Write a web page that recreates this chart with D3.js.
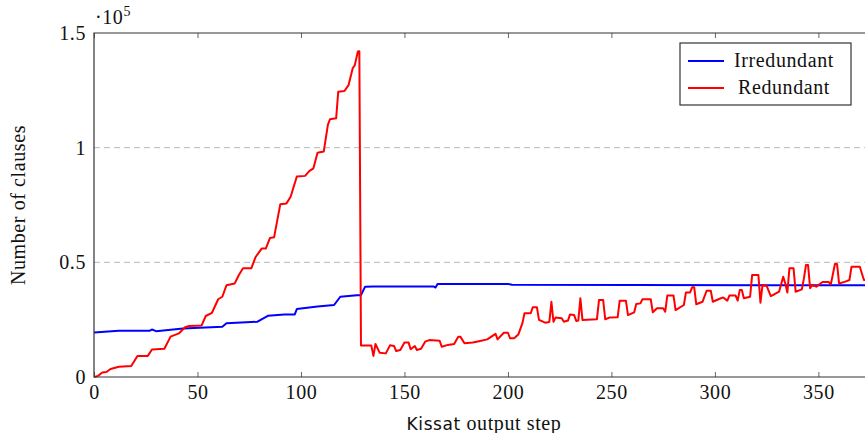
<!DOCTYPE html>
<html lang="en">
<head>
<meta charset="utf-8">
<title>Clauses per Kissat output step</title>
<script src="https://d3js.org/d3.v7.min.js"></script>
<style>
  html, body { margin: 0; padding: 0; background: #fff; }
  svg { font-family: "Liberation Serif", "DejaVu Serif", serif; }
  svg text { letter-spacing: 0.6px; }
  .grid line { stroke: #b8b8b8; stroke-dasharray: 6 4; stroke-width: 1; }
  .frame { fill: none; stroke: #333; stroke-width: 1.2; }
  .series { fill: none; stroke-width: 2; stroke-linejoin: round; }
</style>
</head>
<body>
<div id="chart"></div>
<script>
// Data (x = Kissat output step, y = number of clauses)
var blueSteps = [0, 12, 27, 28, 30, 43, 62, 64, 79, 84, 92, 97, 98, 108, 116, 119, 127, 129, 131, 135, 164, 165, 166, 200, 202, 260, 373];
var blueValues = [19400, 20200, 20200, 20700, 20000, 21200, 21900, 23400, 24100, 26700, 27300, 27300, 29600, 30700, 31400, 35000, 35600, 35700, 39400, 39500, 39500, 39000, 40600, 40600, 40200, 40100, 40000];

var redSteps = [0, 2, 4, 6, 8, 12, 18, 21, 26, 28, 34, 37, 41, 44, 46, 52, 54, 57, 60, 62, 64, 68, 70, 72, 76, 78, 81, 83, 85, 87, 90, 93, 95, 98, 102, 104, 106, 108, 111, 113, 114, 117, 118, 121, 123, 125, 126, 127.5, 128.2,
  129, 134, 135, 136, 138, 141, 143, 145, 146, 148, 150, 152, 153, 155, 156, 158, 160, 162, 167, 168, 171, 174, 176, 177, 179, 183, 186, 190, 192, 194, 195, 198, 200, 201, 203, 205, 207, 208, 211, 212, 214, 215, 218, 220,
  221, 222, 223, 226, 227, 229, 230, 232, 233, 234, 235, 236, 243, 244, 246, 247, 249, 253, 254, 257, 258, 261, 262, 264, 265, 269, 270, 272, 275, 276, 277, 280, 281, 285, 286, 288, 289, 290, 291, 294, 296, 298, 299,
  302, 304, 306, 307, 310, 311, 312, 313, 314, 317, 318, 321, 322, 323, 325, 327, 329, 331, 333, 334, 335, 336, 338, 339, 342, 343, 344, 345, 346, 347, 349, 352, 355, 356, 358, 359, 360, 363, 365, 366, 370, 372, 373];
var redValues = [0, 500, 2000, 2200, 3500, 4500, 4800, 9200, 9200, 12000, 12300, 17600, 19000, 21700, 22200, 22500, 26600, 28000, 33900, 35000, 40000, 40800, 44500, 47400, 47400, 52200, 56000, 56000, 60600, 60900, 75300, 75700, 78600, 87400, 87700, 89800, 91000, 97800, 98300, 109900, 112400, 112800, 124400, 124700, 127300, 134600, 136000, 141900, 142000,
  13700, 13700, 9200, 14400, 10600, 10300, 13800, 13500, 11300, 11800, 15000, 15000, 12100, 13500, 11800, 12300, 15400, 16100, 15800, 13200, 14000, 14400, 17600, 17600, 14700, 15000, 15600, 16400, 17600, 18800, 16400, 19300, 19300, 16900, 16900, 18500, 23500, 27800, 27800, 30400, 30400, 24900, 23700, 24000,
  32800, 24100, 25900, 25600, 24100, 24600, 27300, 27000, 24400, 24600, 34300, 24900, 25200, 33600, 33600, 25200, 25900, 26000, 33300, 33300, 27000, 28200, 31800, 32100, 33900, 33900, 28200, 30000, 30000, 28500, 35500, 35500, 29200, 31400, 36900, 36900, 39100, 39100, 31700, 32800, 37600, 37600, 32800,
  34000, 34700, 33300, 35500, 35500, 33300, 37900, 37900, 34300, 35000, 44500, 44500, 32400, 40100, 39700, 35300, 36200, 37200, 43700, 40800, 36800, 47400, 47400, 37200, 38200, 43000, 48800, 48800, 38700, 40100, 39400, 41400, 41400, 40400, 49300, 49300, 40800, 41600, 42300, 48100, 48100, 42300, 42300];

var yTicks = [0, 50000, 100000, 150000];
var yTickLabels = ["0", "0.5", "1", "1.5"];
var xTicks = [0, 50, 100, 150, 200, 250, 300, 350];

var W = 865, H = 433;
var margin = { left: 94, right: -1, top: 33, bottom: 56 };

var svg = d3.select("#chart").append("svg")
  .attr("width", W)
  .attr("height", H);

var x = d3.scaleLinear().domain([0, 373]).range([margin.left, W - margin.right]);
var y = d3.scaleLinear().domain([0, 150000]).range([H - margin.bottom, margin.top]);

// dashed horizontal grid
svg.append("g").attr("class", "grid")
  .selectAll("line")
  .data(yTicks.slice(1, 3))
  .enter().append("line")
  .attr("x1", x(0)).attr("x2", x(373))
  .attr("y1", function(d) { return y(d); })
  .attr("y2", function(d) { return y(d); });

// series
var line = d3.line()
  .x(function(d) { return x(d[0]); })
  .y(function(d) { return y(d[1]); });

var blue = d3.zip(blueSteps, blueValues);
var red = d3.zip(redSteps, redValues);

svg.append("path").attr("class", "series").attr("stroke", "#0000ff").attr("d", line(blue));
svg.append("path").attr("class", "series").attr("stroke", "#ff0000").attr("d", line(red));

// axes
var xAxis = d3.axisBottom(x).tickValues(xTicks).tickSizeInner(-5).tickSizeOuter(0).tickPadding(8);
var gx = svg.append("g").attr("transform", "translate(0," + y(0) + ")").call(xAxis);
gx.select(".domain").remove();
gx.selectAll(".tick line").attr("stroke", "#666");
gx.selectAll("text").attr("font-size", 20).attr("fill", "#111").attr("font-family", "Liberation Serif");

var xTop = d3.axisTop(x).tickValues(xTicks).tickSizeInner(-5).tickSizeOuter(0).tickFormat("");
var gxt = svg.append("g").attr("transform", "translate(0," + y(150000) + ")").call(xTop);
gxt.select(".domain").remove();
gxt.selectAll(".tick line").attr("stroke", "#666");

var yAxis = d3.axisLeft(y).tickValues(yTicks).tickSize(0).tickPadding(8)
  .tickFormat(function(d, i) { return yTickLabels[i]; });
var gy = svg.append("g").attr("transform", "translate(" + x(0) + ",0)").call(yAxis);
gy.select(".domain").remove();
gy.selectAll("text").attr("font-size", 20).attr("fill", "#111").attr("font-family", "Liberation Serif");

// frame
svg.append("path").attr("class", "frame")
  .attr("d", "M" + (W + 2) + "," + y(150000) + "H" + x(0) + "V" + y(0) + "H" + (W + 2));

// exponent label
var ex = svg.append("text").attr("x", x(0) + 1).attr("y", 24).attr("font-size", 20).attr("fill", "#111");
ex.append("tspan").text("\u00b710");
ex.append("tspan").attr("font-size", 14).attr("dy", -8).text("5");

// axis titles
svg.append("text")
  .attr("transform", "translate(25," + ((y(0) + y(150000)) / 2) + ") rotate(-90)")
  .attr("text-anchor", "middle").attr("font-size", 20).attr("fill", "#111")
  .text("Number of clauses");

var xl = svg.append("text").attr("x", 484).attr("y", 430).attr("text-anchor", "middle")
  .attr("font-size", 20).attr("fill", "#111");
xl.append("tspan").attr("font-family", "DejaVu Sans").attr("font-size", 17).text("Kissat");
xl.append("tspan").text(" output step");

// legend
var lg = svg.append("g").attr("transform", "translate(680,43)");
lg.append("rect").attr("width", 171).attr("height", 62)
  .attr("fill", "#fff").attr("stroke", "#333").attr("stroke-width", 1.2);
var entries = [["Irredundant", "#0000ff"], ["Redundant", "#ff0000"]];
entries.forEach(function(e, i) {
  var cy = 18 + i * 27;
  lg.append("line").attr("x1", 8).attr("x2", 44).attr("y1", cy).attr("y2", cy)
    .attr("stroke", e[1]).attr("stroke-width", 2);
  lg.append("text").attr("x", 104).attr("y", cy + 6).attr("text-anchor", "middle")
    .attr("font-size", 20).attr("fill", "#111").text(e[0]);
});
</script>
</body>
</html>
